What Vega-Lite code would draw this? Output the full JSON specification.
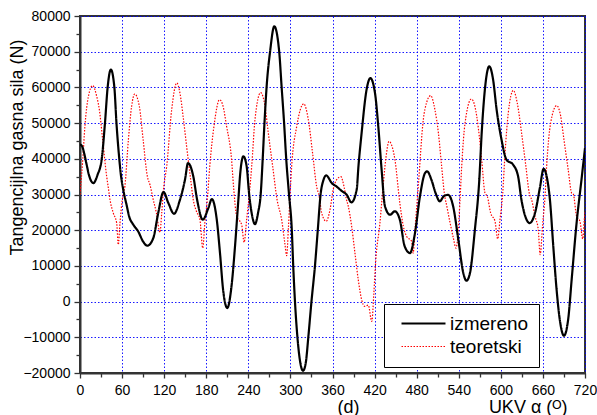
{
  "$schema": "https://vega.github.io/schema/vega-lite/v6.json",
  "width": 505,
  "height": 357,
  "autosize": "none",
  "padding": {"left": 80, "top": 16, "right": 12, "bottom": 42},
  "background": "white",
  "config": {
    "font": "Liberation Sans",
    "view": {"stroke": "#333333", "strokeWidth": 2},
    "axis": {"labelFont": "Liberation Sans", "titleFont": "Liberation Sans", "labelColor": "#000000", "titleColor": "#000000", "titleFontWeight": "normal", "tickColor": "#333333", "domainColor": "#333333"}
  },
  "datasets": {
    "d": [
      {"a": 0, "v": 44000, "s": "izmereno"},
      {"a": 3, "v": 43500, "s": "izmereno"},
      {"a": 6, "v": 41500, "s": "izmereno"},
      {"a": 9, "v": 38800, "s": "izmereno"},
      {"a": 13, "v": 35300, "s": "izmereno"},
      {"a": 19, "v": 33200, "s": "izmereno"},
      {"a": 25, "v": 35500, "s": "izmereno"},
      {"a": 31, "v": 40000, "s": "izmereno"},
      {"a": 35.6, "v": 50000, "s": "izmereno"},
      {"a": 39.4, "v": 60000, "s": "izmereno"},
      {"a": 44, "v": 65000, "s": "izmereno"},
      {"a": 49, "v": 60000, "s": "izmereno"},
      {"a": 52, "v": 50000, "s": "izmereno"},
      {"a": 56, "v": 40000, "s": "izmereno"},
      {"a": 58, "v": 36000, "s": "izmereno"},
      {"a": 62, "v": 31000, "s": "izmereno"},
      {"a": 66.5, "v": 27000, "s": "izmereno"},
      {"a": 70, "v": 23900, "s": "izmereno"},
      {"a": 76, "v": 21550, "s": "izmereno"},
      {"a": 83, "v": 19650, "s": "izmereno"},
      {"a": 90, "v": 16800, "s": "izmereno"},
      {"a": 96, "v": 15650, "s": "izmereno"},
      {"a": 104.5, "v": 17800, "s": "izmereno"},
      {"a": 111.5, "v": 24800, "s": "izmereno"},
      {"a": 119, "v": 30700, "s": "izmereno"},
      {"a": 126, "v": 27600, "s": "izmereno"},
      {"a": 134, "v": 24600, "s": "izmereno"},
      {"a": 142.5, "v": 28500, "s": "izmereno"},
      {"a": 149.7, "v": 34150, "s": "izmereno"},
      {"a": 154, "v": 38800, "s": "izmereno"},
      {"a": 161.5, "v": 35100, "s": "izmereno"},
      {"a": 167, "v": 28500, "s": "izmereno"},
      {"a": 175, "v": 22950, "s": "izmereno"},
      {"a": 183, "v": 26200, "s": "izmereno"},
      {"a": 188, "v": 28700, "s": "izmereno"},
      {"a": 195, "v": 22950, "s": "izmereno"},
      {"a": 199.6, "v": 13600, "s": "izmereno"},
      {"a": 204, "v": 3350, "s": "izmereno"},
      {"a": 210, "v": -1800, "s": "izmereno"},
      {"a": 216, "v": 4300, "s": "izmereno"},
      {"a": 221, "v": 15450, "s": "izmereno"},
      {"a": 225.6, "v": 28000, "s": "izmereno"},
      {"a": 228.5, "v": 36000, "s": "izmereno"},
      {"a": 233, "v": 40700, "s": "izmereno"},
      {"a": 237.6, "v": 37900, "s": "izmereno"},
      {"a": 241, "v": 30400, "s": "izmereno"},
      {"a": 245, "v": 24500, "s": "izmereno"},
      {"a": 249.5, "v": 21700, "s": "izmereno"},
      {"a": 254, "v": 25000, "s": "izmereno"},
      {"a": 257.6, "v": 30000, "s": "izmereno"},
      {"a": 260.5, "v": 40000, "s": "izmereno"},
      {"a": 263, "v": 50000, "s": "izmereno"},
      {"a": 266, "v": 60000, "s": "izmereno"},
      {"a": 271, "v": 70000, "s": "izmereno"},
      {"a": 277, "v": 77100, "s": "izmereno"},
      {"a": 284, "v": 70000, "s": "izmereno"},
      {"a": 287.5, "v": 60000, "s": "izmereno"},
      {"a": 291, "v": 50000, "s": "izmereno"},
      {"a": 294, "v": 40000, "s": "izmereno"},
      {"a": 298, "v": 30000, "s": "izmereno"},
      {"a": 302, "v": 20000, "s": "izmereno"},
      {"a": 304, "v": 10000, "s": "izmereno"},
      {"a": 306.5, "v": 0, "s": "izmereno"},
      {"a": 310, "v": -10000, "s": "izmereno"},
      {"a": 314, "v": -17000, "s": "izmereno"},
      {"a": 318, "v": -19400, "s": "izmereno"},
      {"a": 322, "v": -17000, "s": "izmereno"},
      {"a": 325.5, "v": -10000, "s": "izmereno"},
      {"a": 330, "v": 0, "s": "izmereno"},
      {"a": 335, "v": 10000, "s": "izmereno"},
      {"a": 339, "v": 20000, "s": "izmereno"},
      {"a": 343, "v": 30000, "s": "izmereno"},
      {"a": 347, "v": 34000, "s": "izmereno"},
      {"a": 351, "v": 35350, "s": "izmereno"},
      {"a": 359, "v": 33200, "s": "izmereno"},
      {"a": 366, "v": 32200, "s": "izmereno"},
      {"a": 373, "v": 31000, "s": "izmereno"},
      {"a": 380, "v": 30000, "s": "izmereno"},
      {"a": 387, "v": 27800, "s": "izmereno"},
      {"a": 394.5, "v": 31400, "s": "izmereno"},
      {"a": 397, "v": 37900, "s": "izmereno"},
      {"a": 401.5, "v": 47200, "s": "izmereno"},
      {"a": 408.6, "v": 59400, "s": "izmereno"},
      {"a": 414, "v": 62600, "s": "izmereno"},
      {"a": 420.6, "v": 58400, "s": "izmereno"},
      {"a": 425.3, "v": 49000, "s": "izmereno"},
      {"a": 430, "v": 37000, "s": "izmereno"},
      {"a": 434.8, "v": 26700, "s": "izmereno"},
      {"a": 442, "v": 24350, "s": "izmereno"},
      {"a": 449, "v": 25300, "s": "izmereno"},
      {"a": 456, "v": 22950, "s": "izmereno"},
      {"a": 463, "v": 15450, "s": "izmereno"},
      {"a": 470.5, "v": 13600, "s": "izmereno"},
      {"a": 477.6, "v": 19200, "s": "izmereno"},
      {"a": 484.7, "v": 29500, "s": "izmereno"},
      {"a": 491.9, "v": 36000, "s": "izmereno"},
      {"a": 495, "v": 36500, "s": "izmereno"},
      {"a": 501, "v": 34150, "s": "izmereno"},
      {"a": 507, "v": 30400, "s": "izmereno"},
      {"a": 513, "v": 28100, "s": "izmereno"},
      {"a": 519, "v": 29600, "s": "izmereno"},
      {"a": 525, "v": 29900, "s": "izmereno"},
      {"a": 532, "v": 26700, "s": "izmereno"},
      {"a": 539.4, "v": 17350, "s": "izmereno"},
      {"a": 546.5, "v": 8000, "s": "izmereno"},
      {"a": 551, "v": 5850, "s": "izmereno"},
      {"a": 556, "v": 8000, "s": "izmereno"},
      {"a": 563, "v": 20150, "s": "izmereno"},
      {"a": 569.3, "v": 34150, "s": "izmereno"},
      {"a": 572.7, "v": 47200, "s": "izmereno"},
      {"a": 577.4, "v": 59700, "s": "izmereno"},
      {"a": 583.5, "v": 65900, "s": "izmereno"},
      {"a": 589, "v": 62150, "s": "izmereno"},
      {"a": 594, "v": 53750, "s": "izmereno"},
      {"a": 601, "v": 45350, "s": "izmereno"},
      {"a": 608, "v": 39750, "s": "izmereno"},
      {"a": 617.5, "v": 38350, "s": "izmereno"},
      {"a": 624.6, "v": 35100, "s": "izmereno"},
      {"a": 629.4, "v": 28500, "s": "izmereno"},
      {"a": 636.7, "v": 22950, "s": "izmereno"},
      {"a": 641, "v": 22000, "s": "izmereno"},
      {"a": 648.7, "v": 24800, "s": "izmereno"},
      {"a": 655.8, "v": 32000, "s": "izmereno"},
      {"a": 661, "v": 37200, "s": "izmereno"},
      {"a": 665.3, "v": 35100, "s": "izmereno"},
      {"a": 670, "v": 28500, "s": "izmereno"},
      {"a": 674.8, "v": 15450, "s": "izmereno"},
      {"a": 679.5, "v": 3350, "s": "izmereno"},
      {"a": 684, "v": -5000, "s": "izmereno"},
      {"a": 690, "v": -9550, "s": "izmereno"},
      {"a": 696, "v": -5000, "s": "izmereno"},
      {"a": 701, "v": 6200, "s": "izmereno"},
      {"a": 708, "v": 22000, "s": "izmereno"},
      {"a": 715, "v": 34150, "s": "izmereno"},
      {"a": 720, "v": 43000, "s": "izmereno"},
      {"a": 0, "v": 30000, "s": "teoretski"},
      {"a": 4, "v": 40000, "s": "teoretski"},
      {"a": 7, "v": 49100, "s": "teoretski"},
      {"a": 12, "v": 57500, "s": "teoretski"},
      {"a": 18, "v": 60500, "s": "teoretski"},
      {"a": 23.8, "v": 57500, "s": "teoretski"},
      {"a": 27.6, "v": 53750, "s": "teoretski"},
      {"a": 32.3, "v": 45350, "s": "teoretski"},
      {"a": 38, "v": 35100, "s": "teoretski"},
      {"a": 40.4, "v": 31850, "s": "teoretski"},
      {"a": 42.8, "v": 28500, "s": "teoretski"},
      {"a": 47.5, "v": 24800, "s": "teoretski"},
      {"a": 52.3, "v": 22000, "s": "teoretski"},
      {"a": 54.6, "v": 15950, "s": "teoretski"},
      {"a": 57, "v": 22000, "s": "teoretski"},
      {"a": 60.3, "v": 28500, "s": "teoretski"},
      {"a": 64, "v": 32300, "s": "teoretski"},
      {"a": 69, "v": 45350, "s": "teoretski"},
      {"a": 73.6, "v": 54700, "s": "teoretski"},
      {"a": 78, "v": 58150, "s": "teoretski"},
      {"a": 84.6, "v": 54700, "s": "teoretski"},
      {"a": 90, "v": 45350, "s": "teoretski"},
      {"a": 96, "v": 35100, "s": "teoretski"},
      {"a": 99.8, "v": 32700, "s": "teoretski"},
      {"a": 104.5, "v": 28500, "s": "teoretski"},
      {"a": 109, "v": 24800, "s": "teoretski"},
      {"a": 114, "v": 19400, "s": "teoretski"},
      {"a": 116.5, "v": 24800, "s": "teoretski"},
      {"a": 119, "v": 31400, "s": "teoretski"},
      {"a": 123.6, "v": 37900, "s": "teoretski"},
      {"a": 130.7, "v": 53750, "s": "teoretski"},
      {"a": 138, "v": 61250, "s": "teoretski"},
      {"a": 142.5, "v": 58400, "s": "teoretski"},
      {"a": 147, "v": 51900, "s": "teoretski"},
      {"a": 152, "v": 43500, "s": "teoretski"},
      {"a": 157.8, "v": 34150, "s": "teoretski"},
      {"a": 161.5, "v": 28500, "s": "teoretski"},
      {"a": 166, "v": 25300, "s": "teoretski"},
      {"a": 171, "v": 22950, "s": "teoretski"},
      {"a": 175, "v": 15000, "s": "teoretski"},
      {"a": 178, "v": 22000, "s": "teoretski"},
      {"a": 181.5, "v": 28500, "s": "teoretski"},
      {"a": 185, "v": 37900, "s": "teoretski"},
      {"a": 191, "v": 49100, "s": "teoretski"},
      {"a": 199, "v": 56550, "s": "teoretski"},
      {"a": 204, "v": 54700, "s": "teoretski"},
      {"a": 209, "v": 49100, "s": "teoretski"},
      {"a": 216, "v": 40000, "s": "teoretski"},
      {"a": 219, "v": 32000, "s": "teoretski"},
      {"a": 223.4, "v": 23900, "s": "teoretski"},
      {"a": 230.5, "v": 21550, "s": "teoretski"},
      {"a": 234, "v": 16600, "s": "teoretski"},
      {"a": 237.6, "v": 22950, "s": "teoretski"},
      {"a": 241.4, "v": 30100, "s": "teoretski"},
      {"a": 244.8, "v": 37900, "s": "teoretski"},
      {"a": 249.5, "v": 51000, "s": "teoretski"},
      {"a": 257.6, "v": 58550, "s": "teoretski"},
      {"a": 263.8, "v": 54700, "s": "teoretski"},
      {"a": 268.5, "v": 47200, "s": "teoretski"},
      {"a": 274.7, "v": 37900, "s": "teoretski"},
      {"a": 281, "v": 28500, "s": "teoretski"},
      {"a": 287.5, "v": 22950, "s": "teoretski"},
      {"a": 292, "v": 16400, "s": "teoretski"},
      {"a": 294.7, "v": 12850, "s": "teoretski"},
      {"a": 297, "v": 20150, "s": "teoretski"},
      {"a": 299.4, "v": 29500, "s": "teoretski"},
      {"a": 301.8, "v": 37900, "s": "teoretski"},
      {"a": 309, "v": 49100, "s": "teoretski"},
      {"a": 319, "v": 55400, "s": "teoretski"},
      {"a": 325.5, "v": 51000, "s": "teoretski"},
      {"a": 331.6, "v": 41600, "s": "teoretski"},
      {"a": 337.4, "v": 32200, "s": "teoretski"},
      {"a": 341, "v": 29500, "s": "teoretski"},
      {"a": 344.6, "v": 24800, "s": "teoretski"},
      {"a": 351, "v": 22500, "s": "teoretski"},
      {"a": 356.4, "v": 25700, "s": "teoretski"},
      {"a": 361, "v": 31400, "s": "teoretski"},
      {"a": 366, "v": 34150, "s": "teoretski"},
      {"a": 372, "v": 35000, "s": "teoretski"},
      {"a": 376.4, "v": 32200, "s": "teoretski"},
      {"a": 380, "v": 28500, "s": "teoretski"},
      {"a": 382.5, "v": 26700, "s": "teoretski"},
      {"a": 387.3, "v": 21100, "s": "teoretski"},
      {"a": 392, "v": 13600, "s": "teoretski"},
      {"a": 396.7, "v": 6150, "s": "teoretski"},
      {"a": 401.5, "v": 550, "s": "teoretski"},
      {"a": 406, "v": -1350, "s": "teoretski"},
      {"a": 411, "v": -1000, "s": "teoretski"},
      {"a": 416, "v": -5550, "s": "teoretski"},
      {"a": 419, "v": 2400, "s": "teoretski"},
      {"a": 421.5, "v": 11000, "s": "teoretski"},
      {"a": 427.6, "v": 22000, "s": "teoretski"},
      {"a": 432.3, "v": 32700, "s": "teoretski"},
      {"a": 436, "v": 40000, "s": "teoretski"},
      {"a": 440.6, "v": 44900, "s": "teoretski"},
      {"a": 444, "v": 44000, "s": "teoretski"},
      {"a": 449, "v": 39750, "s": "teoretski"},
      {"a": 456, "v": 27600, "s": "teoretski"},
      {"a": 461, "v": 21100, "s": "teoretski"},
      {"a": 465.6, "v": 18300, "s": "teoretski"},
      {"a": 472.8, "v": 16900, "s": "teoretski"},
      {"a": 475, "v": 13600, "s": "teoretski"},
      {"a": 477.6, "v": 20150, "s": "teoretski"},
      {"a": 482.3, "v": 32300, "s": "teoretski"},
      {"a": 489.5, "v": 51000, "s": "teoretski"},
      {"a": 494, "v": 55650, "s": "teoretski"},
      {"a": 500, "v": 57700, "s": "teoretski"},
      {"a": 506, "v": 53750, "s": "teoretski"},
      {"a": 511, "v": 47200, "s": "teoretski"},
      {"a": 515.6, "v": 37900, "s": "teoretski"},
      {"a": 519.4, "v": 30400, "s": "teoretski"},
      {"a": 523, "v": 26700, "s": "teoretski"},
      {"a": 527.7, "v": 22000, "s": "teoretski"},
      {"a": 532.3, "v": 17800, "s": "teoretski"},
      {"a": 536, "v": 15000, "s": "teoretski"},
      {"a": 539.4, "v": 20150, "s": "teoretski"},
      {"a": 541.8, "v": 28500, "s": "teoretski"},
      {"a": 544.2, "v": 37900, "s": "teoretski"},
      {"a": 549, "v": 50000, "s": "teoretski"},
      {"a": 558, "v": 56750, "s": "teoretski"},
      {"a": 563, "v": 54700, "s": "teoretski"},
      {"a": 568, "v": 48500, "s": "teoretski"},
      {"a": 572.7, "v": 39750, "s": "teoretski"},
      {"a": 577.4, "v": 30400, "s": "teoretski"},
      {"a": 580.7, "v": 29500, "s": "teoretski"},
      {"a": 585.5, "v": 24800, "s": "teoretski"},
      {"a": 591.7, "v": 22500, "s": "teoretski"},
      {"a": 595.5, "v": 17550, "s": "teoretski"},
      {"a": 598.8, "v": 22950, "s": "teoretski"},
      {"a": 602.6, "v": 30100, "s": "teoretski"},
      {"a": 606, "v": 41600, "s": "teoretski"},
      {"a": 610.6, "v": 52800, "s": "teoretski"},
      {"a": 617.8, "v": 59150, "s": "teoretski"},
      {"a": 623.4, "v": 55650, "s": "teoretski"},
      {"a": 629.6, "v": 47200, "s": "teoretski"},
      {"a": 635.7, "v": 37900, "s": "teoretski"},
      {"a": 640.5, "v": 30400, "s": "teoretski"},
      {"a": 644, "v": 28500, "s": "teoretski"},
      {"a": 648.7, "v": 23900, "s": "teoretski"},
      {"a": 653.4, "v": 20150, "s": "teoretski"},
      {"a": 656, "v": 13150, "s": "teoretski"},
      {"a": 659.6, "v": 21550, "s": "teoretski"},
      {"a": 663, "v": 29500, "s": "teoretski"},
      {"a": 665.3, "v": 37900, "s": "teoretski"},
      {"a": 671, "v": 50000, "s": "teoretski"},
      {"a": 679.6, "v": 54900, "s": "teoretski"},
      {"a": 685.3, "v": 52000, "s": "teoretski"},
      {"a": 690, "v": 45350, "s": "teoretski"},
      {"a": 696, "v": 37000, "s": "teoretski"},
      {"a": 701, "v": 30400, "s": "teoretski"},
      {"a": 703.3, "v": 30100, "s": "teoretski"},
      {"a": 708, "v": 23900, "s": "teoretski"},
      {"a": 712.8, "v": 22500, "s": "teoretski"},
      {"a": 716.7, "v": 17550, "s": "teoretski"},
      {"a": 719, "v": 22950, "s": "teoretski"},
      {"a": 720, "v": 25000, "s": "teoretski"}
    ]
  },
  "data": {"name": "d"},
  "encoding": {
    "x": {"field": "a", "type": "quantitative", "scale": {"domain": [0, 720], "nice": false, "zero": false}},
    "y": {"field": "v", "type": "quantitative", "scale": {"domain": [-20000, 80000], "nice": false}},
    "color": {"field": "s", "type": "nominal", "scale": {"domain": ["izmereno", "teoretski"], "range": ["#000000", "#ff0000"]},
      "legend": {"title": null, "orient": "none", "legendX": 304, "legendY": 288, "fillColor": "white", "strokeColor": "#000000", "padding": 10, "labelFontSize": 19, "labelFont": "Liberation Sans", "labelColor": "#000000", "symbolType": "M-3,0H3", "symbolSize": 215, "symbolOffset": 20, "labelOffset": 17, "rowPadding": 3}},
    "strokeDash": {"field": "s", "type": "nominal", "scale": {"domain": ["izmereno", "teoretski"], "range": [[1, 0], [1.5, 1.5]]}, "legend": {"title": null}},
    "strokeWidth": {"field": "s", "type": "nominal", "scale": {"domain": ["izmereno", "teoretski"], "range": [2.2, 1.2]}, "legend": {"title": null}},
    "order": {"field": "a", "type": "quantitative"}
  },
  "layer": [
    {
      "transform": [{"filter": "datum.s === 'teoretski'"}],
      "mark": {"type": "line", "interpolate": "monotone", "clip": true},
      "encoding": {
        "x": {"field": "a", "type": "quantitative", "axis": {"orient": "bottom", "values": [30, 90, 150, 210, 270, 330, 390, 450, 510, 570, 630, 690], "labels": false, "grid": false, "domain": false, "ticks": true, "tickSize": 4, "tickWidth": 1.3, "title": "UKV α (ᴼ)", "titleFontSize": 18, "titleX": 487, "titleY": 39, "titleAlign": "right", "titleBaseline": "alphabetic", "titleAnchor": null}},
        "y": {"field": "v", "type": "quantitative", "axis": {"orient": "left", "values": [-15000, -5000, 5000, 15000, 25000, 35000, 45000, 55000, 65000, 75000], "labels": false, "grid": false, "domain": false, "ticks": true, "tickSize": 4, "tickWidth": 1.3, "title": null}}
      }
    },
    {
      "transform": [{"filter": "datum.s === 'izmereno'"}],
      "mark": {"type": "line", "interpolate": "monotone", "clip": true},
      "encoding": {
        "x": {"field": "a", "type": "quantitative", "axis": {"orient": "bottom", "values": [0, 60, 120, 180, 240, 300, 360, 420, 480, 540, 600, 660, 720], "grid": true, "gridColor": "#0000ff", "gridDash": [1.5, 2], "gridWidth": 1, "gridOpacity": 0.9, "domain": true, "domainWidth": 2, "ticks": true, "tickSize": 5, "tickWidth": 1.3, "labelFontSize": 14, "labelPadding": 5, "labelFlush": false, "title": "(d)", "titleFontSize": 18, "titleX": 268, "titleY": 39, "titleAlign": "center", "titleBaseline": "alphabetic", "titleAnchor": null}},
        "y": {"field": "v", "type": "quantitative", "axis": {"orient": "left", "values": [-20000, -10000, 0, 10000, 20000, 30000, 40000, 50000, 60000, 70000, 80000], "format": "d", "grid": true, "gridColor": "#0000ff", "gridDash": [1.5, 2], "gridWidth": 1, "gridOpacity": 0.9, "domain": true, "domainWidth": 2, "ticks": true, "tickSize": 6, "tickWidth": 1.3, "labelFontSize": 14, "labelPadding": 4, "labelFlush": false, "title": "Tangencijlna gasna sila (N)", "titleFontSize": 18, "titleX": -63, "titleY": 131, "titleAlign": "center", "titleBaseline": "middle", "titleAnchor": null}}
      }
    }
  ],
  "resolve": {"axis": {"x": "independent", "y": "independent"}}
}
